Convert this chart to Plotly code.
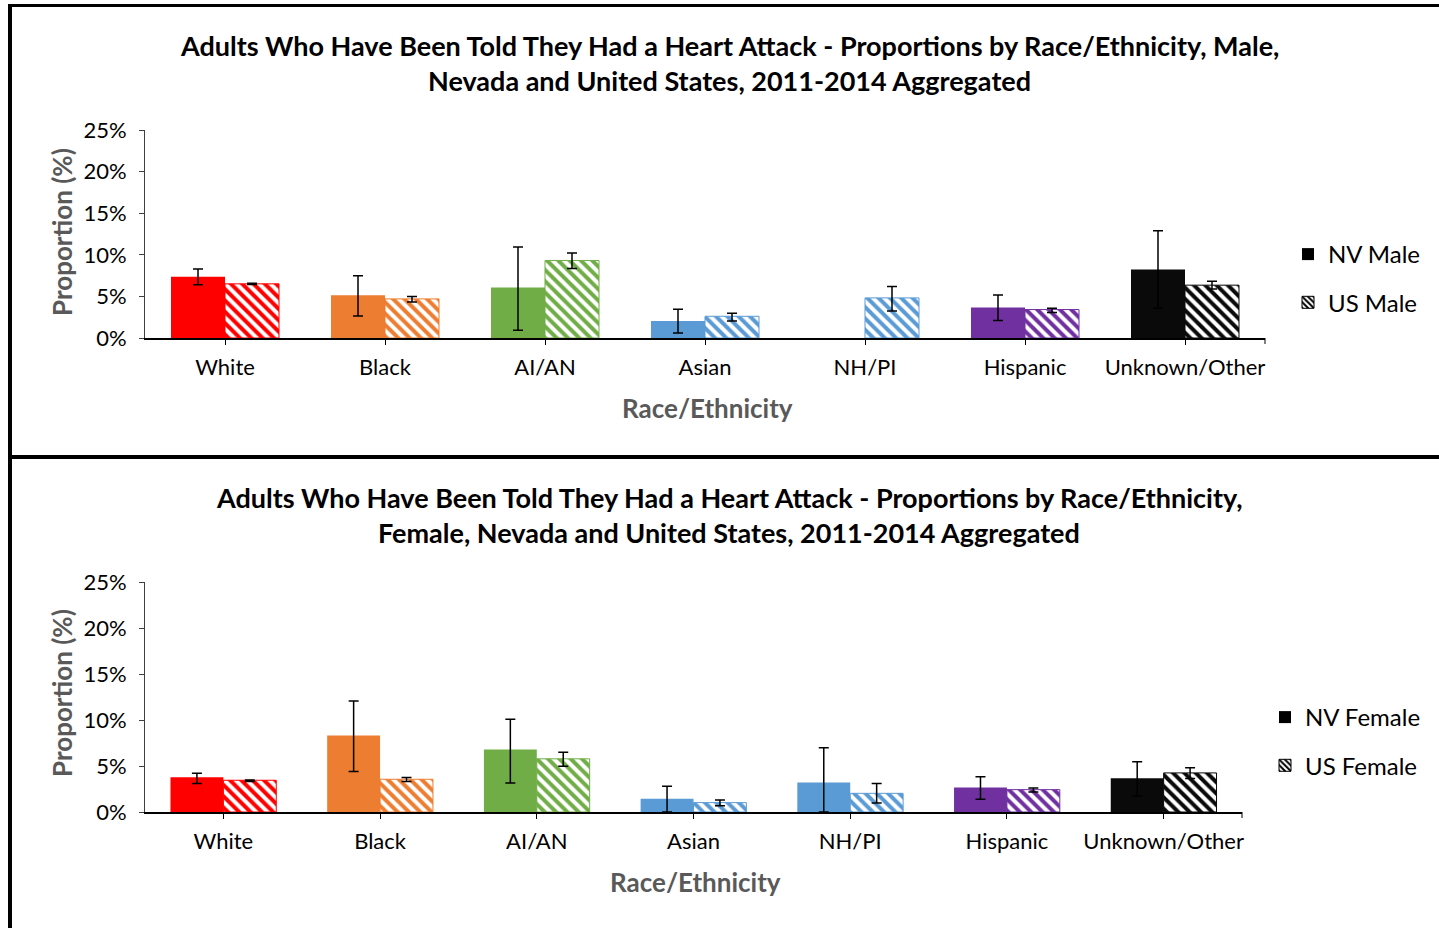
import plotly.graph_objects as go

categories = ["White", "Black", "AI/AN", "Asian", "NH/PI", "Hispanic", "Unknown/Other"]
colors = ["#FF0000", "#ED7D31", "#70AD47", "#5B9BD5", "#5B9BD5", "#7030A0", "#0A0A0A"]

# Male (proportions, %)
nv_male = [7.36, 5.14, 6.07, 2.05, None, 3.66, 8.24]
nv_male_lo = [6.39, 2.65, 0.92, 0.60, None, 2.09, 3.58]
nv_male_hi = [8.28, 7.48, 10.93, 3.46, None, 5.18, 12.90]
us_male = [6.51, 4.70, 9.32, 2.61, 4.82, 3.42, 6.35]
us_male_lo = [6.43, 4.34, 8.36, 2.05, 3.26, 3.05, 5.90]
us_male_hi = [6.57, 4.98, 10.21, 2.97, 6.19, 3.58, 6.83]

# Female (proportions, %)
nv_female = [3.78, 8.32, 6.80, 1.45, 3.20, 2.65, 3.67]
nv_female_lo = [3.09, 4.40, 3.16, 0.00, 0.00, 1.38, 1.71]
nv_female_hi = [4.22, 12.06, 10.07, 2.80, 6.98, 3.82, 5.45]
us_female = [3.45, 3.56, 5.78, 1.02, 2.03, 2.43, 4.25]
us_female_lo = [3.31, 3.31, 4.98, 0.69, 0.98, 2.18, 3.63]
us_female_hi = [3.49, 3.74, 6.50, 1.31, 3.09, 2.62, 4.80]

y_ticks = [0, 5, 10, 15, 20, 25]
y_ticklabels = ["0%", "5%", "10%", "15%", "20%", "25%"]

W, H = 1439, 928
FONT = "Lato"


def px_x(p):
    return p / W


def px_y(p):
    return 1 - p / H


def plus(vals, hi):
    return [None if v is None else h - v for v, h in zip(vals, hi)]


def minus(vals, lo):
    return [None if v is None else v - l for v, l in zip(vals, lo)]


def frac(vals):
    return [None if v is None else v / 100 for v in vals]


def err(vals, lo, hi):
    return dict(type="data", symmetric=False,
                array=frac(plus(vals, hi)), arrayminus=frac(minus(vals, lo)),
                color="black", thickness=1.5, width=5)


fig = go.Figure()

panels = [
    dict(nv=nv_male, nvlo=nv_male_lo, nvhi=nv_male_hi,
         us=us_male, uslo=us_male_lo, ushi=us_male_hi,
         xa="x", ya="y", xa_l="x3", ya_l="y3", legend="legend",
         names=("NV Male", "US Male")),
    dict(nv=nv_female, nvlo=nv_female_lo, nvhi=nv_female_hi,
         us=us_female, uslo=us_female_lo, ushi=us_female_hi,
         xa="x2", ya="y2", xa_l="x4", ya_l="y4", legend="legend2",
         names=("NV Female", "US Female")),
]

for p in panels:
    fig.add_trace(go.Bar(
        x=categories, y=frac(p["nv"]), xaxis=p["xa"], yaxis=p["ya"],
        marker=dict(color=colors, line=dict(width=0)),
        error_y=err(p["nv"], p["nvlo"], p["nvhi"]),
        showlegend=False, name=p["names"][0]))
    fig.add_trace(go.Bar(
        x=categories, y=frac(p["us"]), xaxis=p["xa"], yaxis=p["ya"],
        marker=dict(color=colors, line=dict(width=1, color=colors),
                    pattern=dict(shape="\\", fillmode="replace", bgcolor="white",
                                 fgcolor=colors, size=8, solidity=0.5)),
        error_y=err(p["us"], p["uslo"], p["ushi"]),
        showlegend=False, name=p["names"][1]))
    # legend-only entries (black swatches)
    fig.add_trace(go.Bar(
        x=[None], y=[None], xaxis=p["xa_l"], yaxis=p["ya_l"],
        marker=dict(color="black", line=dict(width=0)),
        name=p["names"][0], legend=p["legend"], legendgroup=p["names"][0]))
    fig.add_trace(go.Bar(
        x=[None], y=[None], xaxis=p["xa_l"], yaxis=p["ya_l"],
        marker=dict(color="black", line=dict(width=1, color="black"),
                    pattern=dict(shape="\\", fillmode="replace", bgcolor="white",
                                 fgcolor="black", size=5, solidity=0.5)),
        name=p["names"][1], legend=p["legend"], legendgroup=p["names"][1]))

tickfont = dict(family=FONT, size=22, color="black")

xcommon = dict(type="category", showline=True, linecolor="black", linewidth=2,
               ticks="outside", ticklen=5, tickcolor="black", tickwidth=1,
               tickfont=tickfont, showgrid=False, zeroline=False,
               ticklabelstandoff=4, fixedrange=True, automargin=False)
ycommon = dict(range=[0, 0.25], tickvals=[t / 100 for t in y_ticks], ticktext=y_ticklabels,
               showline=True, linecolor="#404040", linewidth=1,
               ticks="outside", ticklen=5, tickcolor="#404040",
               tickfont=tickfont, showgrid=False, zeroline=False,
               ticklabelstandoff=8, fixedrange=True, automargin=False)

fig.update_layout(
    width=W, height=H,
    autosize=False,
    margin=dict(l=0, r=0, t=0, b=0, pad=0, autoexpand=False),
    paper_bgcolor="white", plot_bgcolor="white",
    barmode="group", bargap=0.325, bargroupgap=0,
    font=dict(family=FONT, color="black"),
    xaxis=dict(domain=[px_x(145), px_x(1265)], anchor="y", **xcommon),
    yaxis=dict(domain=[px_y(338), px_y(130)], anchor="x", **ycommon),
    xaxis2=dict(domain=[px_x(145), px_x(1242)], anchor="y2", **xcommon),
    yaxis2=dict(domain=[px_y(812), px_y(582)], anchor="x2", **ycommon),
    xaxis3=dict(domain=[px_x(145), px_x(1265)], anchor="y3", visible=False, overlaying="x"),
    yaxis3=dict(domain=[px_y(338), px_y(130)], anchor="x3", visible=False, overlaying="y"),
    xaxis4=dict(domain=[px_x(145), px_x(1242)], anchor="y4", visible=False, overlaying="x2"),
    yaxis4=dict(domain=[px_y(812), px_y(582)], anchor="x4", visible=False, overlaying="y2"),
    legend=dict(x=px_x(1288), y=px_y(232), xanchor="left", yanchor="top",
                font=dict(family=FONT, size=24, color="black"),
                tracegroupgap=14, bgcolor="rgba(0,0,0,0)", itemclick=False),
    legend2=dict(x=px_x(1265), y=px_y(695), xanchor="left", yanchor="top",
                 font=dict(family=FONT, size=24, color="black"),
                 tracegroupgap=14, bgcolor="rgba(0,0,0,0)", itemclick=False),
)

title_font = dict(family=FONT, size=27, color="black")
annots = [
    ("<b>Adults Who Have Been Told They Had a Heart Attack - Proportions by Race/Ethnicity, Male,</b>", 729, 45),
    ("<b>Nevada and United States, 2011-2014 Aggregated</b>", 729, 80),
    ("<b>Adults Who Have Been Told They Had a Heart Attack - Proportions by Race/Ethnicity,</b>", 729, 497),
    ("<b>Female, Nevada and United States, 2011-2014 Aggregated</b>", 729, 532),
]
for txt, x, y in annots:
    fig.add_annotation(text=txt, x=px_x(x), y=px_y(y), xref="paper", yref="paper",
                       xanchor="center", yanchor="middle", showarrow=False, font=title_font)

axis_title_font = dict(family=FONT, size=26, color="#595959")
for txt, x, y, ang in [("<b>Proportion (%)</b>", 62, 232, -90),
                       ("<b>Race/Ethnicity</b>", 707, 408, 0),
                       ("<b>Proportion (%)</b>", 62, 693, -90),
                       ("<b>Race/Ethnicity</b>", 695, 882, 0)]:
    fig.add_annotation(text=txt, x=px_x(x), y=px_y(y), xref="paper", yref="paper",
                       xanchor="center", yanchor="middle", showarrow=False,
                       textangle=ang, font=axis_title_font)

# panel borders
border = dict(color="black", width=4)
fig.add_shape(type="line", xref="paper", yref="paper", x0=px_x(10), x1=px_x(10),
              y0=px_y(4), y1=0, line=border)
fig.add_shape(type="line", xref="paper", yref="paper", x0=px_x(8), x1=1,
              y0=px_y(5.5), y1=px_y(5.5), line=dict(color="black", width=3))
fig.add_shape(type="line", xref="paper", yref="paper", x0=px_x(8), x1=1,
              y0=px_y(457), y1=px_y(457), line=border)
# end ticks on category axes
for xa, ya, dom in [("x", "y", 208), ("x2", "y2", 230)]:
    fig.add_shape(type="line", xref=f"{xa} domain", yref=f"{ya} domain",
                  x0=1, x1=1, y0=0, y1=-6 / dom, line=dict(color="black", width=1))

fig.write_html("out.html", config={"displayModeBar": False, "responsive": False},
               post_script="document.body.style.margin='0';document.body.style.overflow='hidden';")
